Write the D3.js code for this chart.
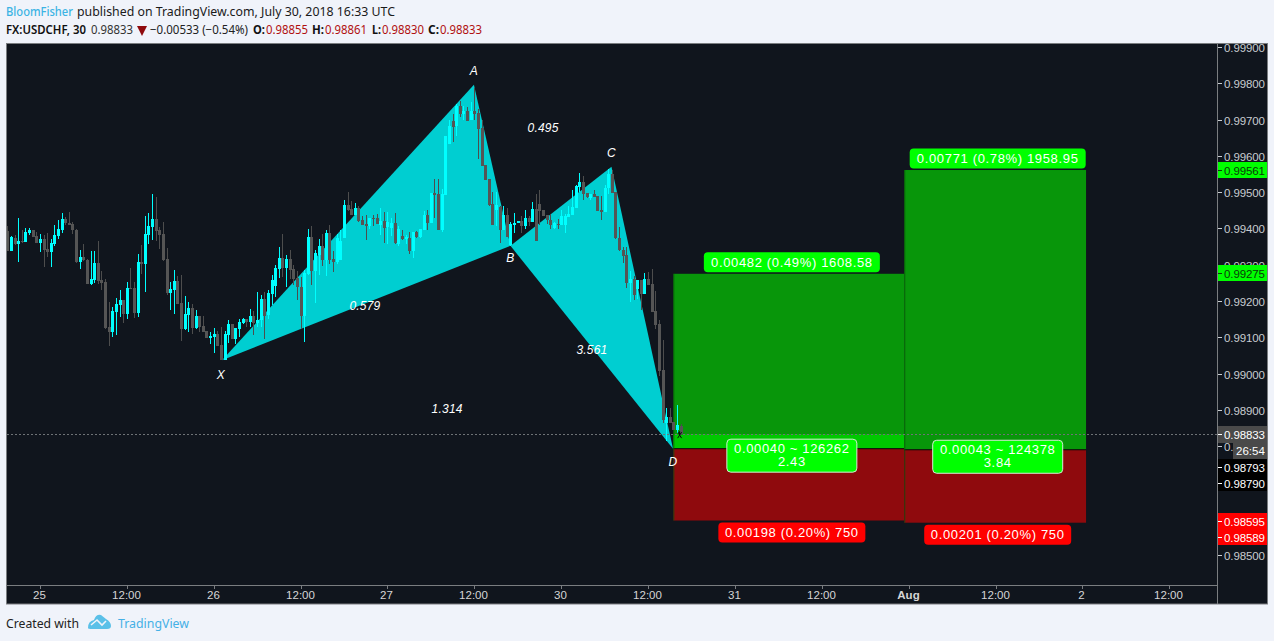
<!DOCTYPE html>
<html><head><meta charset="utf-8">
<script src="https://cdn.jsdelivr.net/npm/d3@7"></script>
<style>html,body{margin:0;padding:0;background:#f0f3fa;overflow:hidden}svg{display:block}</style>
</head><body><svg id="c" width="1274" height="641"></svg>
<script>
// Candles, in price points (price x 100000), one entry per 30-minute bar
const opens=[99393,99338,99375,99358,99365,99363,99387,99395,99379,99360,99370,99343,99335,99357,99380,99396,99426,99415,99412,99397,99307,99320,99313,99247,99258,99305,99258,99252,99128,99114,99170,99189,99203,99164,99236,99236,99167,99307,99302,99382,99404,99426,99396,99385,99316,99222,99230,99255,99194,99123,99161,99181,99125,99159,99131,99117,99098,99101,99109,99079,99037,99106,99136,99095,99123,99139,99150,99142,99158,99140,99147,99205,99161,99219,99241,99288,99318,99291,99316,99288,99263,99238,99158,99274,99376,99283,99327,99351,99313,99387,99316,99307,99313,99374,99465,99453,99437,99456,99423,99412,99407,99429,99429,99409,99420,99405,99401,99415,99357,99379,99371,99374,99338,99390,99376,99396,99437,99415,99498,99495,99396,99492,99633,99696,99683,99738,99715,99724,99699,99724,99718,99677,99575,99536,99468,99451,99459,99396,99437,99355,99410,99415,99421,99407,99429,99418,99454,99468,99451,99437,99423,99401,99412,99410,99410,99432,99437,99457,99514,99528,99498,99484,99495,99490,99451,99446,99512,99550,99501,99374,99341,99327,99249,99260,99232,99257,99219,99260,99246,99172,99136,99009,98863,98880,98866,98844,98855];
const highs=[99407,99379,99382,99429,99396,99401,99401,99396,99390,99385,99382,99387,99371,99409,99423,99443,99431,99445,99418,99398,99341,99357,99316,99338,99338,99365,99283,99261,99197,99183,99208,99230,99203,99252,99291,99252,99330,99354,99434,99443,99495,99487,99404,99418,99346,99252,99285,99269,99272,99214,99197,99192,99175,99159,99159,99117,99114,99125,99117,99128,99117,99147,99136,99125,99150,99153,99150,99178,99172,99225,99216,99225,99230,99272,99299,99348,99386,99327,99340,99299,99283,99266,99285,99398,99407,99340,99371,99385,99396,99409,99338,99385,99396,99478,99500,99476,99470,99462,99434,99437,99429,99437,99440,99456,99445,99445,99429,99442,99407,99396,99382,99390,99390,99393,99398,99448,99451,99498,99536,99536,99509,99655,99699,99716,99743,99752,99738,99735,99749,99787,99729,99699,99575,99536,99501,99501,99462,99462,99457,99418,99443,99421,99434,99451,99434,99473,99495,99506,99451,99437,99440,99418,99426,99451,99440,99462,99506,99520,99553,99545,99498,99495,99506,99490,99490,99520,99564,99561,99501,99404,99350,99350,99282,99268,99257,99257,99277,99279,99288,99227,99147,99092,98905,98905,98866,98913,98861];
const lows=[99339,99338,99354,99307,99359,99363,99382,99376,99360,99335,99294,99321,99294,99352,99371,99387,99409,99409,99385,99305,99288,99310,99247,99244,99250,99247,99230,99123,99076,99101,99106,99156,99139,99150,99233,99153,99156,99274,99225,99357,99368,99365,99343,99310,99216,99175,99164,99192,99090,99120,99114,99109,99123,99114,99114,99098,99081,99057,99076,99037,99037,99083,99095,99081,99101,99136,99129,99129,99106,99129,99129,99095,99150,99189,99211,99264,99266,99238,99260,99244,99203,99123,99087,99272,99244,99194,99272,99296,99269,99302,99280,99302,99313,99374,99448,99437,99437,99418,99409,99368,99398,99407,99412,99382,99360,99357,99379,99357,99351,99368,99357,99329,99318,99374,99374,99396,99396,99415,99429,99396,99390,99492,99633,99638,99655,99707,99699,99696,99699,99699,99592,99572,99534,99462,99410,99407,99360,99396,99377,99352,99388,99415,99387,99399,99407,99418,99366,99410,99434,99412,99399,99399,99399,99410,99388,99432,99437,99457,99501,99479,99484,99479,99487,99448,99423,99446,99495,99498,99371,99338,99306,99236,99197,99202,99205,99175,99219,99244,99169,99122,98993,98863,98814,98863,98844,98835,98830];
const closes=[99339,99376,99358,99365,99363,99390,99396,99377,99360,99371,99341,99335,99360,99382,99398,99426,99414,99410,99396,99307,99321,99312,99247,99261,99305,99255,99250,99125,99114,99172,99192,99203,99164,99236,99234,99167,99307,99303,99385,99407,99426,99393,99382,99313,99222,99233,99255,99192,99123,99164,99181,99125,99159,99128,99114,99099,99103,99109,99076,99037,99109,99136,99095,99125,99142,99150,99142,99158,99139,99147,99205,99159,99222,99258,99291,99318,99291,99316,99285,99260,99238,99158,99277,99376,99283,99332,99351,99313,99387,99313,99307,99374,99365,99465,99451,99437,99456,99420,99409,99408,99429,99426,99412,99420,99401,99418,99415,99359,99398,99371,99376,99338,99390,99376,99398,99437,99415,99498,99492,99396,99495,99655,99683,99679,99738,99716,99724,99696,99724,99715,99674,99572,99534,99465,99410,99465,99396,99437,99377,99412,99415,99421,99407,99429,99418,99454,99366,99448,99434,99423,99410,99415,99410,99434,99434,99440,99459,99517,99528,99495,99487,99495,99487,99448,99446,99512,99550,99498,99374,99341,99324,99249,99260,99216,99257,99219,99260,99244,99169,99133,99007,98872,98880,98863,98844,98858,98833];

// Price axis
const priceTicks=[0.999,0.998,0.997,0.996,0.995,0.994,0.993,0.992,0.991,0.99,0.989,0.988,0.985];
// Time axis: bar index of each label, and its text
const timeTickBars=[9,33,57,81,105,129,153,177,201,225,249,273,297,321];
const timeTickLabels=["25","12:00","26","12:00","27","12:00","30","12:00","31","12:00","Aug","12:00","2","12:00"];

// Harmonic pattern X A B C D: bar index and price
const patternNames=["X","A","B","C","D"];
const patternBars=[59.3,128.9,139,166.9,183.9];
const patternPrices=[0.99037,0.99796,0.99352,0.9957,0.98793];
const ratioLabels=["0.579","0.495","3.561","1.314"];
const ratioBars=[98.8,148,161.5,121.5];
const ratioPrices=[0.99185,0.99676,0.99064,0.98902];

// Long positions
const posStart=[184,247.8];
const posEnd=[247.8,298];
const posEntry=[0.98793,0.9879];
const posTarget=[0.99275,0.99561];
const posStop=[0.98595,0.98589];
const posWin=["0.00482 (0.49%) 1608.58","0.00771 (0.78%) 1958.95"];
const posLoss=["0.00198 (0.20%) 750","0.00201 (0.20%) 750"];
const posMid1=["0.00040 ~ 126262","0.00043 ~ 124378"];
const posMid2=["2.43","3.84"];

// Price labels on the scale
const tagPrices=[0.99561,0.99275,0.98793,0.9879,0.98595,0.98589];
const tagColors=["#00ff00","#00ff00","#000000","#000000","#ff0000","#ff0000"];
const lastPrice=0.98833;
const countdown="26:54";

const svg=d3.select("#c");
const FONT="'Liberation Sans',Arial,sans-serif";
const HEAD="'Noto Sans',sans-serif";
const x=d3.scaleLinear().domain([0,100]).range([7.3,369.3]);
const y=d3.scaleLinear().domain([0.999,0.985]).range([47,555]);
const fmt=d3.format(".5f");
const pts=v=>y(v/1e5);

svg.append("rect").attr("width",1274).attr("height",641).attr("fill","#f0f3fa");
// frame
svg.append("rect").attr("x",6.5).attr("y",43.5).attr("width",1261).attr("height",560.5).attr("fill","#10151d").attr("stroke","#7a7d80");
const defs=svg.append("defs");
defs.append("clipPath").attr("id","plot").append("rect").attr("x",7).attr("y",44).attr("width",1211).attr("height",541);
defs.append("clipPath").attr("id","scale").append("rect").attr("x",1218).attr("y",44).attr("width",49).attr("height",560);
const plot=svg.append("g").attr("clip-path","url(#plot)");

// pattern triangles
const pat=patternBars.map((b,i)=>[x(b),y(patternPrices[i])]);
[[0,1,2],[2,3,4]].forEach(t=>{
  plot.append("path").attr("d","M"+t.map(i=>pat[i].join(",")).join("L")+"Z").attr("fill","#00ced1");
});

// positions
posStart.forEach((s,i)=>{
  const x0=x(s),x1=x(posEnd[i]);
  const g=plot.append("g");
  g.append("rect").attr("x",x0).attr("y",y(posTarget[i])).attr("width",x1-x0).attr("height",y(posEntry[i])-y(posTarget[i])).attr("fill","#08960a");
  if(i===0) g.append("rect").attr("x",x0).attr("y",y(lastPrice)).attr("width",x1-x0).attr("height",y(posEntry[i])-y(lastPrice)).attr("fill","#00c800");
  g.append("rect").attr("x",x0).attr("y",y(posEntry[i])).attr("width",x1-x0).attr("height",y(posStop[i])-y(posEntry[i])).attr("fill","#8f0a0d");
  g.append("line").attr("x1",x0).attr("x2",x1).attr("y1",y(posEntry[i])).attr("y2",y(posEntry[i])).attr("stroke","#0a0a0a");
  g.append("line").attr("x1",x0+.5).attr("x2",x0+.5).attr("y1",y(posTarget[i])).attr("y2",y(posStop[i])).attr("stroke","#0a5a0a").attr("stroke-opacity",.7);
});

// last price line
plot.append("line").attr("x1",7).attr("x2",1218).attr("y1",Math.round(y(lastPrice))+.5).attr("y2",Math.round(y(lastPrice))+.5)
  .attr("stroke","#6e7276").attr("stroke-dasharray","2 2");

// candles
const UP="#00ffff",DOWN="#555555",DOWNEDGE="#6a6a6a",WICK="#4d4d4d";
const candles=plot.append("g").attr("shape-rendering","crispEdges");
opens.forEach((o,i)=>{
  const up=closes[i]>=o;
  const cx=Math.round(x(i));
  candles.append("rect").attr("x",cx).attr("width",1).attr("y",pts(highs[i])).attr("height",Math.max(1,pts(lows[i])-pts(highs[i]))).attr("fill",up?UP:WICK);
  const t=pts(Math.max(o,closes[i])),b=pts(Math.min(o,closes[i]));
  candles.append("rect").attr("x",cx-1).attr("width",3).attr("y",t).attr("height",Math.max(1,b-t)).attr("fill",up?UP:DOWN);
});

// small marker near last bar
const mk=plot.append("g").attr("stroke","#0a0a0a").attr("stroke-width",1);
[[-2,3],[-1.5,-3],[2,3],[2,-3],[0,-4]].forEach(d=>{
  mk.append("line").attr("x1",x(186)-1).attr("y1",y(lastPrice)+1).attr("x2",x(186)-1+d[0]).attr("y2",y(lastPrice)+1+d[1]);
});

// italic pattern text
const it=plot.append("g").attr("fill","#fff").attr("font-family",FONT).attr("font-style","italic").attr("font-size",12).attr("letter-spacing",.2).attr("text-anchor","middle");
const nameOff=[19,-10,16,-10,17];
patternNames.forEach((n,i)=>it.append("text").attr("x",pat[i][0]-(i==0?1:0)).attr("y",pat[i][1]+nameOff[i]).text(n));
ratioLabels.forEach((n,i)=>it.append("text").attr("x",x(ratioBars[i])).attr("y",y(ratioPrices[i])+4).text(n));

// position labels
function pill(cx,top,h,w,fill,lines,stroke){
  const g=svg.append("g");
  g.append("rect").attr("x",cx-w/2).attr("y",top).attr("width",w).attr("height",h).attr("rx",4).attr("fill",fill).attr("stroke",stroke||"none");
  lines.forEach((l,i)=>g.append("text").attr("x",cx).attr("y",top+(lines.length>1?14+i*13:h/2+4.5)).attr("text-anchor","middle")
    .attr("font-family",FONT).attr("font-size",13).attr("letter-spacing",.65).attr("fill","#fff").text(l));
}
posStart.forEach((s,i)=>{
  const x0=x(s),x1=x(posEnd[i]),cx=(i==0?x0+x1+6:x0+x1+5)/2;
  const ty=y(posTarget[i]),sy=y(posStop[i]),ey=y(posEntry[i]);
  pill(cx,ty-21.5,20,176,"#00ff00",[posWin[i]]);
  pill(cx,sy+2,20,147,"#ff0000",[posLoss[i]]);
  pill(cx,ey-9.5,33,130,"#00ff00",[posMid1[i],posMid2[i]],"#d8e8d8");
});

// time axis
svg.append("line").attr("x1",7).attr("x2",1218).attr("y1",585.5).attr("y2",585.5).attr("stroke","#7a7d80");
timeTickBars.forEach((b,i)=>{
  const px=Math.round(x(b));
  svg.append("line").attr("x1",px+.5).attr("x2",px+.5).attr("y1",585).attr("y2",589).attr("stroke","#7a7d80");
  svg.append("text").attr("x",px-.5).attr("y",599).attr("text-anchor","middle").attr("font-family",FONT).attr("font-size",11.5)
    .attr("font-weight",timeTickLabels[i]==="Aug"?"bold":"normal").attr("fill","#d6d6d6").text(timeTickLabels[i]);
});

// price axis
svg.append("line").attr("x1",1217.5).attr("x2",1217.5).attr("y1",44).attr("y2",604).attr("stroke","#7a7d80");
const scaleG=svg.append("g").attr("clip-path","url(#scale)");
function priceText(v,py,col){
  scaleG.append("line").attr("x1",1218).attr("x2",1222).attr("y1",py+.5).attr("y2",py+.5).attr("stroke",col);
  scaleG.append("text").attr("x",1224).attr("y",py+4.5).attr("font-family",FONT).attr("font-size",11.5).attr("letter-spacing",-.1).attr("fill",col).text(fmt(v));
}
priceTicks.forEach(v=>priceText(v,Math.round(y(v)),"#c8ccd0"));
// tags: stacked tags are pushed apart so that they stay legible
const tagRows=[170,273,467,483,521,537];
tagPrices.forEach((v,i)=>{
  const py=tagRows[i];
  scaleG.append("rect").attr("x",1218).attr("y",py-8).attr("width",49).attr("height",16).attr("fill",tagColors[i]);
  priceText(v,py,i<2?"#0a3a0a":"#ffffff");
});
// last price tag
const ly=Math.round(y(lastPrice));
scaleG.append("rect").attr("x",1218).attr("y",ly-8).attr("width",49).attr("height",17).attr("fill","#4a4a4a");
priceText(lastPrice,ly,"#ffffff");
scaleG.append("rect").attr("x",1233).attr("y",ly+9).attr("width",34).attr("height",16).attr("fill","#4a4a4a");
scaleG.append("text").attr("x",1236).attr("y",ly+21).attr("font-family",FONT).attr("font-size",11.5).attr("fill","#fff").text(countdown);

// header
function seg(xp,yp,txt,col,weight,len){
  const t=svg.append("text").attr("x",xp).attr("y",yp).attr("font-family",HEAD).attr("font-size",12).attr("fill",col).attr("font-weight",weight||"normal").text(txt);
  if(len)t.attr("textLength",len).attr("lengthAdjust","spacingAndGlyphs");
}
seg(6,16,"BloomFisher","#3bb3e4",500,67);
seg(77,16,"published on TradingView.com, July 30, 2018 16:33 UTC","#1a1a1a",null,318);
seg(6,34,"FX:USDCHF, 30","#111",600,80);
seg(91,34,"0.98833","#333",null,42);
svg.append("path").attr("d","M137 26L147 26L142 36Z").attr("fill","#8f0a0d");
seg(150,34,"\u22120.00533 (\u22120.54%)","#222",null,98);
const ohlcX=[253,312,372,428],ohlcN=["O:","H:","L:","C:"],ohlcV=["0.98855","0.98861","0.98830","0.98833"],ohlcW=[12,12,9,11];
ohlcN.forEach((n,i)=>{
  seg(ohlcX[i],34,n,"#111",700,ohlcW[i]);
  seg(ohlcX[i]+ohlcW[i]+1,34,ohlcV[i],"#b01010",null,42);
});

// footer
seg(6,628,"Created with","#222",null,73);
svg.append("path").attr("d","M88 628Q88 621 94 620Q96 614 101 615L106 619Q111 622 111 626Q111 629 107 629L92 629Q88 629 88 628Z").attr("fill","#5bc0e8");
svg.append("path").attr("d","M91 625L97 620L102 625L106 621").attr("fill","none").attr("stroke","#f0f3fa").attr("stroke-width",1.6);
seg(118,628,"TradingView","#45b0e6",null,71);
</script></body></html>
